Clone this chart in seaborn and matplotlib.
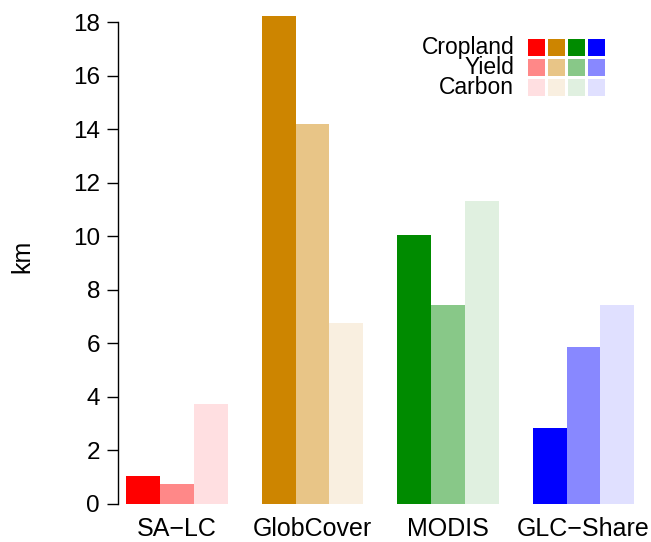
import numpy as np
import pandas as pd
import seaborn as sns
import matplotlib.pyplot as plt
from matplotlib.colors import ListedColormap

datasets = ['SA\u2212LC', 'GlobCover', 'MODIS', 'GLC\u2212Share']
metrics = ['Cropland', 'Yield', 'Carbon']
cropland = [1.05, 18.25, 10.05, 2.85]
yield_ = [0.75, 14.2, 7.45, 5.88]
carbon = [3.72, 6.78, 11.33, 7.42]

# one colour per (metric, dataset)
colors = {
    'Cropland': ['#FF0000', '#CD8500', '#008B00', '#0000FF'],
    'Yield': ['#FF8888', '#E8C587', '#88C888', '#8888FF'],
    'Carbon': ['#FFDFE1', '#F9EFE0', '#E0F0E0', '#E0E0FF'],
}

df = pd.DataFrame({
    'dataset': datasets * 3,
    'metric': [m for m in metrics for _ in datasets],
    'km': cropland + yield_ + carbon,
})

sns.set_style('white')
plt.rcParams['font.family'] = ['Liberation Sans', 'DejaVu Sans']

fig = plt.figure(figsize=(6.51, 5.42), dpi=100)
ax = fig.add_axes([118 / 651, 38 / 542, 533 / 651, 495 / 542])

sns.barplot(data=df, x='dataset', y='km', hue='metric', order=datasets,
            hue_order=metrics, width=0.75, gap=0, legend=False, ax=ax,
            palette=['#888888'] * 3, saturation=1, linewidth=0)

for i, p in enumerate(ax.patches):
    m = metrics[i // len(datasets)]
    p.set_facecolor(colors[m][i % len(datasets)])
    p.set_edgecolor('none')

ax.set_xlim(-0.435, 3.498)
ax.set_ylim(0, 18.5)
ax.set_yticks(np.arange(0, 19, 2))
for s in ['top', 'right', 'bottom']:
    ax.spines[s].set_visible(False)
ax.spines['left'].set_bounds(0, 18)
ax.spines['left'].set_color('black')
ax.spines['left'].set_linewidth(1)
ax.tick_params(axis='y', left=True, length=8, width=1, pad=5, labelsize=17.5,
               color='black', labelcolor='black')
ax.tick_params(axis='x', bottom=False, pad=6, labelsize=18, labelcolor='black')
ax.set_xlabel('')
ax.set_ylabel('km', fontsize=18, labelpad=28, color='black')

# legend as a colour grid
lax = fig.add_axes([526 / 651, (542 - 97) / 542, 80 / 651, 60 / 542])
grid = np.arange(12).reshape(3, 4)
cmap = ListedColormap([c for m in metrics for c in colors[m]])
sns.heatmap(grid, cmap=cmap, cbar=False, linewidths=1, linecolor='white',
            xticklabels=False, yticklabels=metrics, ax=lax)
lax.tick_params(axis='y', left=False, pad=5, labelsize=16.5, rotation=0,
                labelcolor='black')
for t in lax.get_yticklabels():
    t.set_verticalalignment('center')

fig.savefig('out.png', dpi=100)
